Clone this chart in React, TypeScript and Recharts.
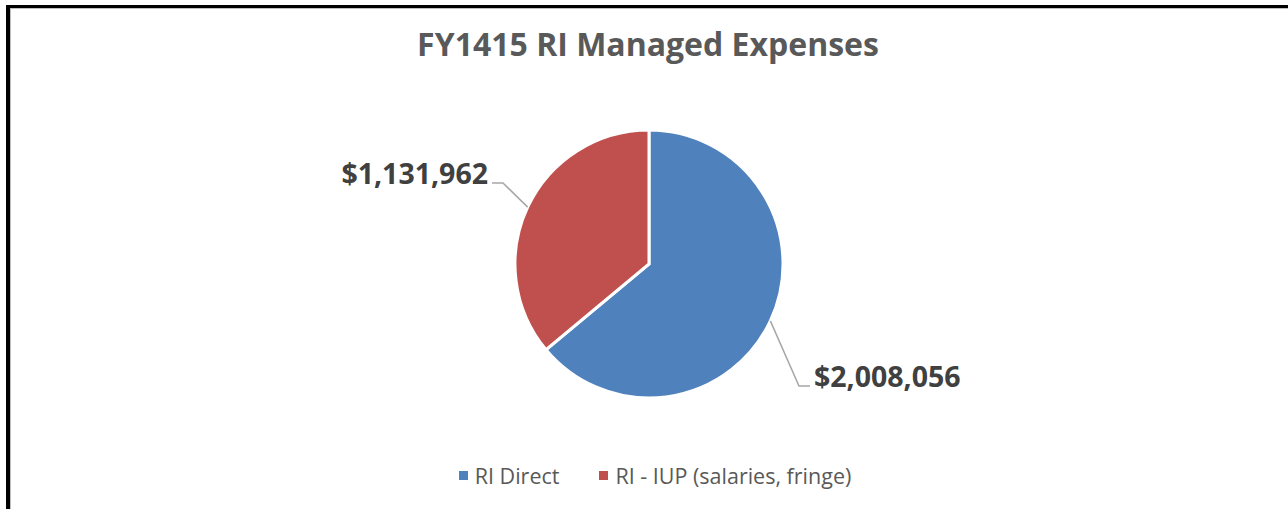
import React from "react";
import { PieChart, Pie, Cell, Legend } from "recharts";

const categories: string[] = ["RI Direct", "RI - IUP (salaries, fringe)"];
const values: number[] = [2008056, 1131962];
const valueLabels: string[] = ["$2,008,056", "$1,131,962"];
const colors: string[] = ["#4F81BD", "#C0504D"];
const title = "FY1415 RI Managed Expenses";

// label layout (elbow offsets from pie center)
const labelElbows = [
  { dx: 150, dy: 122, dir: 1 },
  { dx: -146, dy: -81, dir: -1 },
];

const data = categories.map((name, i) => ({ name, value: values[i] }));

const FONT = "'Open Sans', 'Noto Sans', sans-serif";
const RAD = Math.PI / 180;

const renderLabel = (props: any) => {
  const { cx, cy, midAngle, outerRadius, index } = props;
  const sx = cx + outerRadius * Math.cos(-midAngle * RAD);
  const sy = cy + outerRadius * Math.sin(-midAngle * RAD);
  const e = labelElbows[index];
  const ex = cx + e.dx;
  const ey = cy + e.dy;
  const hx = ex + e.dir * 11;
  const tx = hx + e.dir * 4;
  return (
    <g>
      <polyline
        points={`${sx},${sy} ${ex},${ey} ${hx},${ey}`}
        fill="none"
        stroke="#A6A6A6"
        strokeWidth={1.5}
      />
      <text
        x={tx}
        y={ey + 1}
        textAnchor={e.dir > 0 ? "start" : "end"}
        fill="#404040"
        fontFamily={FONT}
        fontWeight={700}
        fontSize={28.5}
      >
        {valueLabels[index]}
      </text>
    </g>
  );
};

const LegendContent = () => (
  <div
    style={{
      display: "flex",
      justifyContent: "center",
      alignItems: "center",
      fontFamily: FONT,
      fontSize: 21.5,
      color: "#595959",
    }}
  >
    {categories.map((c, i) => (
      <div
        key={c}
        style={{ display: "flex", alignItems: "center", marginRight: i === 0 ? 40 : 0 }}
      >
        <span
          style={{
            display: "inline-block",
            width: 9,
            height: 9,
            background: colors[i],
            marginRight: 7,
          }}
        />
        <span>{c}</span>
      </div>
    ))}
  </div>
);

export default function App() {
  return (
    <div
      style={{
        position: "absolute",
        left: 0,
        top: 0,
        width: 1288,
        height: 509,
        background: "#fff",
        overflow: "hidden",
      }}
    >
      <div
        style={{
          position: "absolute",
          left: 6,
          top: 5,
          width: 1290,
          height: 510,
          borderTop: "3px solid #000",
          borderLeft: "4px solid #000",
          boxSizing: "border-box",
        }}
      >
        <div
          style={{
            position: "absolute",
            left: 0,
            top: 0,
            right: 0,
            bottom: 0,
            borderTop: "1px solid #BFBFBF",
            borderLeft: "1px solid #BFBFBF",
          }}
        />
      </div>
      <div
        style={{
          position: "absolute",
          left: 0,
          top: 24,
          width: 1296,
          textAlign: "center",
          fontFamily: FONT,
          fontWeight: 700,
          fontSize: 32,
          color: "#595959",
          lineHeight: "40px",
        }}
      >
        {title}
      </div>
      <div style={{ position: "absolute", left: 0, top: 0 }}>
        <PieChart width={1288} height={509} margin={{ top: 0, right: 0, bottom: 0, left: 0 }}>
          <Pie
            data={data}
            dataKey="value"
            nameKey="name"
            cx={649}
            cy={264}
            outerRadius={134}
            startAngle={90}
            endAngle={-270}
            stroke="#FFFFFF"
            strokeWidth={3}
            label={renderLabel}
            labelLine={false}
            isAnimationActive={false}
          >
            {data.map((d, i) => (
              <Cell key={d.name} fill={colors[i]} />
            ))}
          </Pie>
          <Legend
            content={<LegendContent />}
            wrapperStyle={{ position: "absolute", top: 461, left: 0, width: 1310 }}
          />
        </PieChart>
      </div>
    </div>
  );
}
